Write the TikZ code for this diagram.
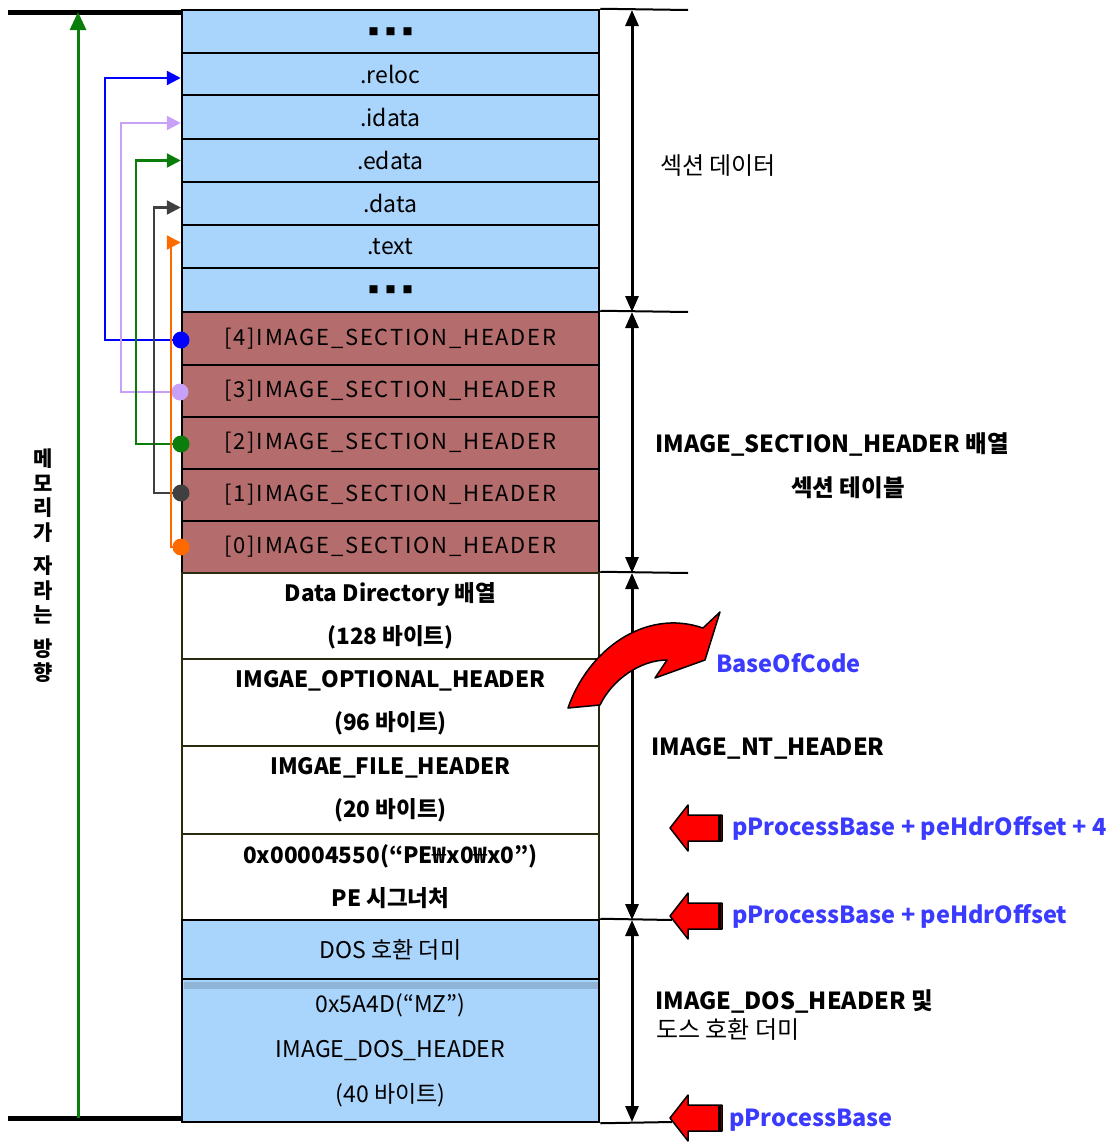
\documentclass[tikz,border=0pt]{standalone}
\usepackage{fontspec}
\setmainfont{Noto Sans CJK KR}
\usetikzlibrary{arrows.meta}
\definecolor{secblue}{HTML}{A9D4FC}
\definecolor{hdrred}{HTML}{B46C6C}
\definecolor{lblue}{HTML}{3B3BFF}
\definecolor{lilac}{HTML}{C8A0F8}
\definecolor{dgreen}{HTML}{0A7D0A}
\definecolor{dgray}{HTML}{404040}
\definecolor{orng}{HTML}{FF6A00}
\definecolor{olive}{HTML}{2A2A10}
\begin{document}
\begin{tikzpicture}[x=1pt,y=-1pt,
  row/.style={draw=black, line width=2.5pt, minimum width=417pt, inner sep=0pt, align=center, font=\fontsize{23}{43}\selectfont},
  bluerow/.style={row, fill=secblue},
  dotsrow/.style={bluerow, font=\fontsize{10}{12}\selectfont},
  redrow/.style={row, fill=hdrred, font=\fontsize{22}{24}\selectfont\addfontfeature{LetterSpace=8}},
  whiterow/.style={row, draw=olive, fill=white, font=\fontsize{22.5}{43}\selectfont\bfseries},
  dot/.style={circle, inner sep=0pt, minimum size=17pt},
  conn/.style={line width=2.5pt, -{Triangle[length=14pt,width=14pt]}},
  dim/.style={line width=3pt, {Triangle[length=16pt,width=13pt]}-{Triangle[length=16pt,width=13pt]}},
  lbl/.style={font=\fontsize{24}{28}\selectfont, inner sep=0pt},
  blbl/.style={font=\fontsize{23.5}{28}\selectfont\bfseries, inner sep=0pt},
  addr/.style={font=\fontsize{23.5}{28}\selectfont\bfseries, text=lblue, inner sep=0pt, anchor=west},
  redarr/.style={fill=red, draw=black, line width=1.5pt, line join=round}
]
\useasboundingbox (0,0) rectangle (1116,1146);

% ---- section data rows ----
\node[dotsrow, minimum height=43pt] (sd0) at (390.5,31.5) {■\hspace{7pt}■\hspace{7pt}■};
\node[bluerow, minimum height=42pt] (reloc) at (390.5,74) {.reloc};
\node[bluerow, minimum height=44pt] (idata) at (390.5,117) {.idata};
\node[bluerow, minimum height=43pt] (edata) at (390.5,160.5) {.edata};
\node[bluerow, minimum height=43pt] (data) at (390.5,203.5) {.data};
\node[bluerow, minimum height=43pt] (text) at (390.5,246.5) {.text};
\node[dotsrow, minimum height=44pt] (sd1) at (390.5,290) {■\hspace{7pt}■\hspace{7pt}■};
% ---- section headers ----
\node[redrow, minimum height=53pt] (sh4) at (390.5,338.5) {[4]IMAGE\_SECTION\_HEADER};
\node[redrow, minimum height=52pt] (sh3) at (390.5,391) {[3]IMAGE\_SECTION\_HEADER};
\node[redrow, minimum height=52pt] (sh2) at (390.5,443) {[2]IMAGE\_SECTION\_HEADER};
\node[redrow, minimum height=52pt] (sh1) at (390.5,495) {[1]IMAGE\_SECTION\_HEADER};
\node[redrow, minimum height=52pt] (sh0) at (390.5,547) {[0]IMAGE\_SECTION\_HEADER};
% ---- NT header ----
\node[whiterow, minimum height=86pt] (dd) at (390.5,616) {Data Directory 배열\\(128 바이트)};
\node[whiterow, minimum height=87pt] (opt) at (390.5,702.5) {IMGAE\_OPTIONAL\_HEADER\\(96 바이트)};
\node[whiterow, minimum height=88pt] (fh) at (390.5,790) {IMGAE\_FILE\_HEADER\\(20 바이트)};
\node[whiterow, minimum height=86pt] (sig) at (390.5,877) {0x00004550(“PE₩x0₩x0”)\\PE 시그너처};
% ---- DOS ----
\node[bluerow, minimum height=59pt] (dummy) at (390.5,949.5) {DOS 호환 더미};
\node[bluerow, minimum height=143pt, font=\fontsize{23}{45}\selectfont] (dos) at (390.5,1050.5) {0x5A4D(“MZ”)\\IMAGE\_DOS\_HEADER\\(40 바이트)};
\fill[secblue!70!black!50!secblue] (183.5,982) rectangle (597.5,989);

% ---- left base lines and growth arrow ----
\coordinate (tl) at (8,12);
\coordinate (bl) at (8,1118);
\draw[line width=5pt] (tl) -- (sd0.north west |- tl);
\draw[line width=5pt] (bl) -- (dos.south west |- bl);
\coordinate (gb) at (78,1118);
\coordinate (gt) at (78,12);
\draw[dgreen, line width=3pt, -{Triangle[length=18pt,width=16pt]}] (gb) -- (gt);
\node[font=\fontsize{21}{24.5}\selectfont\bfseries, align=center, inner sep=0pt] (grow) at (43,566) {메\\모\\리\\가\\[9pt]자\\라\\는\\[9pt]방\\향};

% ---- section header -> section connectors ----
\node[dot, fill=blue] (d4) at (181,340) {};
\node[dot, fill=lilac] (d3) at (180,392) {};
\node[dot, fill=dgreen] (d2) at (181,444) {};
\node[dot, fill=dgray] (d1) at (181,493) {};
\node[dot, fill=orng] (d0) at (181,547) {};
\draw[conn, blue] (d4.center) -- ++(-76,0) |- ([yshift=-4pt]reloc.west);
\draw[conn, lilac] (d3.center) -- ++(-59,0) |- ([yshift=-6pt]idata.west);
\draw[conn, dgreen] (d2.center) -- ++(-45,0) |- (edata.west);
\draw[conn, dgray] (d1.center) -- ++(-27,0) |- ([yshift=-4pt]data.west);
\draw[conn, orng] (d0.center) -- ++(-10,0) |- ([yshift=4pt]text.west);

% ---- right dimension lines ----
\coordinate (e0) at (688,10);
\coordinate (e1) at (688,312);
\coordinate (e2) at (688,573);
\coordinate (e3) at (672,920);
\coordinate (e4) at (672,1122);
\draw[line width=2pt] (sd0.north east) -- (e0);
\draw[line width=2pt] (sh4.north east) -- (e1);
\draw[line width=2pt] (dd.north east) -- (e2);
\draw[line width=2pt] (dummy.north east) -- (e3);
\draw[line width=2pt] (dos.south east) -- (e4);
\coordinate (v0) at (632,10);
\coordinate (v1) at (632,312);
\coordinate (v2) at (632,573);
\coordinate (v3) at (632,920);
\coordinate (v4) at (632,1122);
\draw[dim] (v0) -- (v1);
\draw[dim] (v1) -- (v2);
\draw[dim] (v2) -- (v3);
\draw[dim] (v3) -- (v4);

% ---- right labels ----
\node[lbl] (l1) at (718,166) {섹션 데이터};
\node[blbl] (l2) at (832,444) {IMAGE\_SECTION\_HEADER 배열};
\node[blbl] (l3) at (848,488) {섹션 테이블};
\node[blbl] (l4) at (768,748) {IMAGE\_NT\_HEADER};
\node[blbl, anchor=west] (l5) at (655,1001) {IMAGE\_DOS\_HEADER 및};
\node[lbl, anchor=west] (l6) at (656,1029) {도스 호환 더미};

% ---- curved red arrow ----
\draw[redarr] (568,708) .. controls (588,650) and (645,608) .. (703,628) -- (720,612) -- (705,660) -- (655,678) -- (667,660) .. controls (640,660) and (612,680) .. (600,705) -- cycle;
\node[addr] (boc) at (716,663) {BaseOfCode};

% ---- address arrows ----
\foreach \yy/\nm in {828/a1, 916/a2, 1118/a3}{
  \draw[redarr] (670,\yy) -- (688,\yy-23) -- (688,\yy-13) -- (722,\yy-13) -- (722,\yy+13) -- (688,\yy+13) -- (688,\yy+23) -- cycle;
  \draw[line width=3pt] (719,\yy-13) -- (719,\yy+13);
}
\node[addr] (p1) at (732,828) {pProcessBase~+~peHdrOffset~+~4};
\node[addr] (p2) at (732,916) {pProcessBase~+~peHdrOffset};
\node[addr] (p3) at (729,1120) {pProcessBase};
\end{tikzpicture}
\end{document}
